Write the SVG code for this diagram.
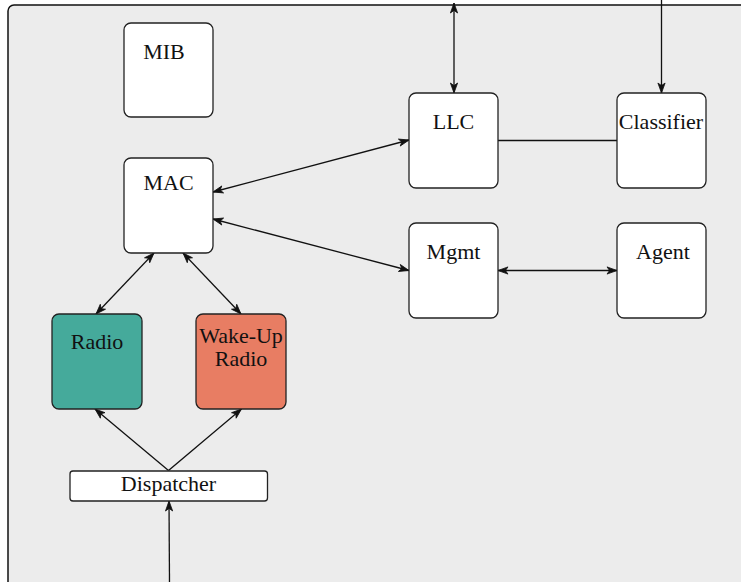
<svg xmlns="http://www.w3.org/2000/svg" width="741" height="582" viewBox="0 0 741 582">
<defs>
<marker id="ah" viewBox="-1 -5 12 10" markerWidth="12" markerHeight="10" refX="10" refY="0" orient="auto-start-reverse" markerUnits="userSpaceOnUse">
<path d="M10,0 L0,-3.6 L2.6,0 L0,3.6 Z" fill="#111" stroke="#111" stroke-width="0.8" stroke-linejoin="miter"/>
</marker>
<style>
.box{fill:#fff;stroke:#222;stroke-width:1.3}
.lbl{font-family:"Liberation Serif","Times New Roman",serif;font-size:22px;fill:#111;text-anchor:middle}
.c{fill:none;stroke:#111;stroke-width:1.3}
</style>
</defs>
<rect x="0" y="0" width="741" height="582" fill="#fff"/>
<rect id="frame" x="8" y="5" width="760" height="620" rx="6" fill="#ececec" stroke="#111" stroke-width="1.5"/>
<g id="connectors">
<line class="c" x1="454" y1="3" x2="454" y2="93" marker-start="url(#ah)" marker-end="url(#ah)"/>
<line class="c" x1="661.5" y1="0" x2="661.5" y2="93" marker-end="url(#ah)"/>
<line class="c" x1="498" y1="140.5" x2="617" y2="140.5"/>
<line class="c" x1="213" y1="192" x2="409" y2="140" marker-start="url(#ah)" marker-end="url(#ah)"/>
<line class="c" x1="213" y1="219" x2="409" y2="270.5" marker-start="url(#ah)" marker-end="url(#ah)"/>
<line class="c" x1="498" y1="270.5" x2="617" y2="270.5" marker-start="url(#ah)" marker-end="url(#ah)"/>
<line class="c" x1="154" y1="253" x2="96" y2="314" marker-start="url(#ah)" marker-end="url(#ah)"/>
<line class="c" x1="183" y1="253" x2="241" y2="314" marker-start="url(#ah)" marker-end="url(#ah)"/>
<line class="c" x1="168.5" y1="470.5" x2="95" y2="409" marker-end="url(#ah)"/>
<line class="c" x1="168.5" y1="470.5" x2="241.5" y2="409" marker-end="url(#ah)"/>
<line class="c" x1="169.5" y1="582" x2="169" y2="501" marker-end="url(#ah)"/>
</g>
<g id="mib"><rect class="box" x="124" y="23" width="89" height="94" rx="7"/><text class="lbl" x="164" y="59">MIB</text></g>
<g id="mac"><rect class="box" x="124" y="158" width="89" height="95" rx="7"/><text class="lbl" x="168.5" y="190">MAC</text></g>
<g id="llc"><rect class="box" x="409" y="93" width="89" height="95" rx="7"/><text class="lbl" x="453.5" y="129">LLC</text></g>
<g id="classifier"><rect class="box" x="617" y="93" width="89" height="95" rx="7"/><text class="lbl" x="661" y="129">Classifier</text></g>
<g id="mgmt"><rect class="box" x="409" y="223" width="89" height="95" rx="7"/><text class="lbl" x="453.5" y="259">Mgmt</text></g>
<g id="agent"><rect class="box" x="617" y="223" width="89" height="95" rx="7"/><text class="lbl" x="663" y="259">Agent</text></g>
<g id="radio"><rect class="box" x="52" y="314" width="90" height="95" rx="7" style="fill:#45aa9b"/><text class="lbl" x="97" y="349">Radio</text></g>
<g id="wakeup"><rect class="box" x="196" y="314" width="90" height="95" rx="7" style="fill:#e87d63"/><text class="lbl" x="241" y="343">Wake-Up</text><text class="lbl" x="241" y="366">Radio</text></g>
<g id="dispatcher"><rect class="box" x="70" y="471" width="197.5" height="30" rx="3"/><text class="lbl" x="168.5" y="491">Dispatcher</text></g>
</svg>
